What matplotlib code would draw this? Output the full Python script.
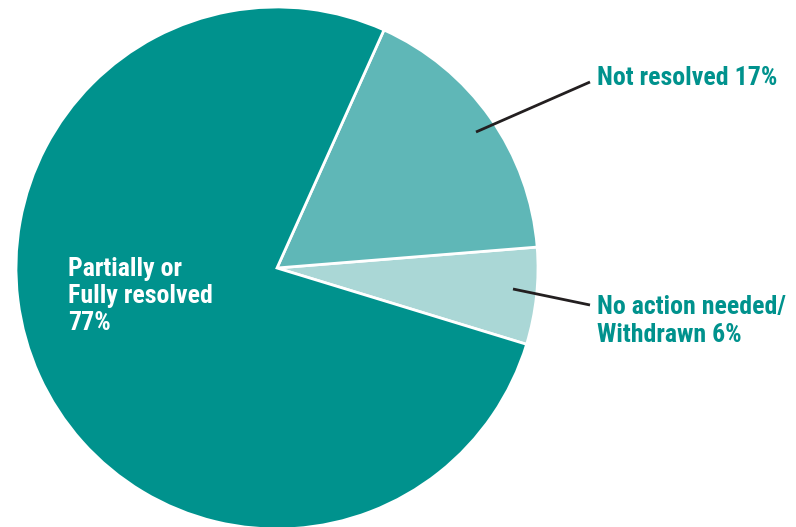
import matplotlib
matplotlib.use("Agg")
import matplotlib.pyplot as plt

labels = ["No action needed/\nWithdrawn 6%", "Not resolved 17%", "Partially or\nFully resolved\n77%"]
values = [6, 17, 77]
colors = ["#AAD7D6", "#5FB7B7", "#00928D"]

W, H = 796, 527
fig = plt.figure(figsize=(W / 100, H / 100), dpi=100)
ax = fig.add_axes([0, 0, 1, 1])

cx, cy, r = 277, H - 268, 261
ax.pie(values, colors=colors, startangle=-17, counterclock=True,
       center=(cx, cy), radius=r, frame=True,
       wedgeprops=dict(edgecolor="white", linewidth=2))
ax.set_xlim(0, W)
ax.set_ylim(0, H)
ax.set_aspect("equal")
ax.axis("off")

teal = "#00928D"
fs = 18.6
kw = dict(fontsize=fs, fontweight="bold", family=["Roboto Condensed", "DejaVu Sans"], linespacing=1.17)

# Not resolved
ax.plot([476, 590], [H - 132, H - 82], color="#231F20", lw=2, solid_capstyle="butt")
ax.text(597, H - 78, labels[1], color=teal, ha="left", va="center", **kw)

# No action
ax.plot([513, 590], [H - 289, H - 305], color="#231F20", lw=2, solid_capstyle="butt")
ax.text(597, H - 321, labels[0], color=teal, ha="left", va="center", **kw)

# Inside
ax.text(68, H - 296, labels[2], color="white", ha="left", va="center", **kw)

fig.savefig("out.png", dpi=100)
